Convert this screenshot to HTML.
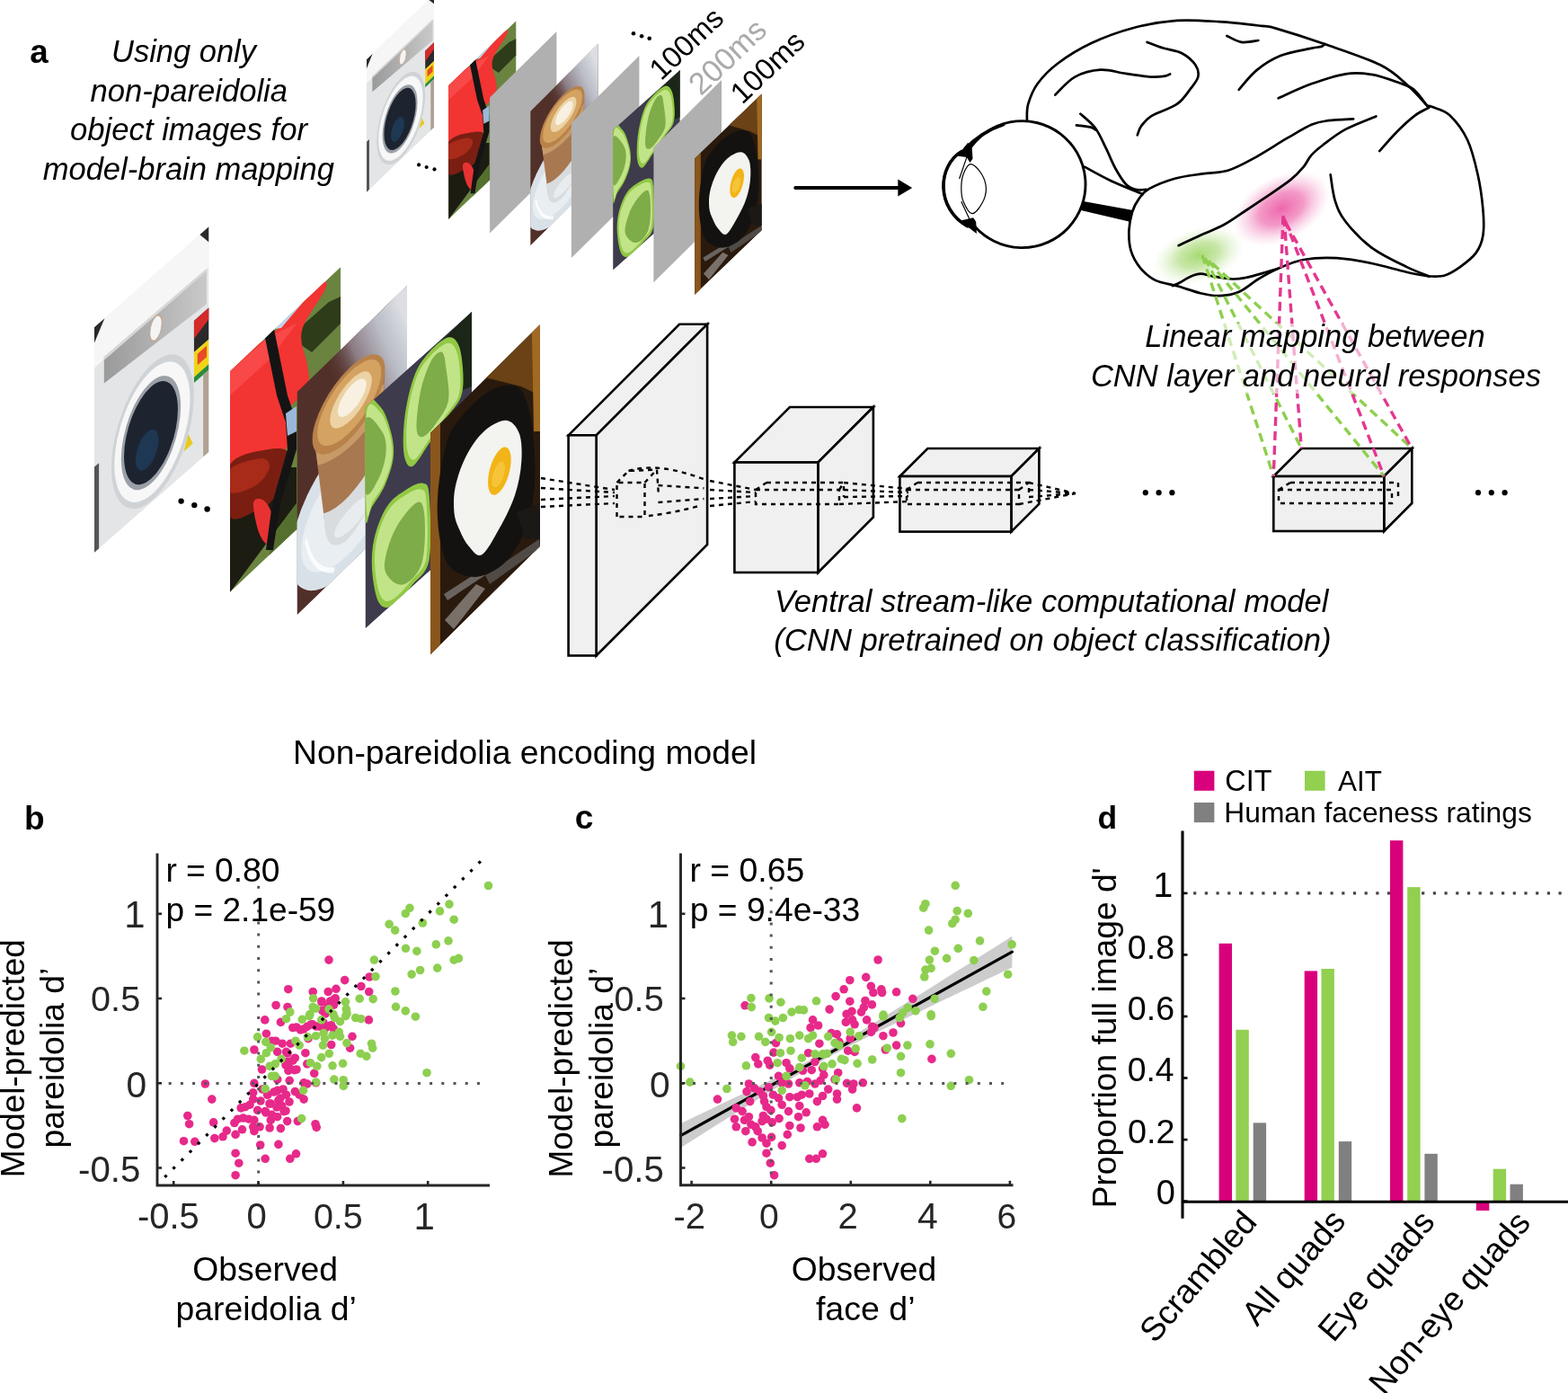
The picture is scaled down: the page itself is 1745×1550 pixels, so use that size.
<!DOCTYPE html>
<html><head><meta charset="utf-8"><title>Figure</title>
<style>html,body{margin:0;padding:0;background:#fff;} svg{display:block;}</style></head>
<body><svg width="1745" height="1550" viewBox="0 0 1745 1550">
<defs>
<clipPath id="uc"><rect x="0" y="0" width="100" height="100"/></clipPath>
<radialGradient id="gPink" cx="50%" cy="50%" r="50%">
  <stop offset="0" stop-color="#ec5fa8" stop-opacity="0.95"/>
  <stop offset="0.45" stop-color="#ef77b5" stop-opacity="0.75"/>
  <stop offset="1" stop-color="#f6b6d6" stop-opacity="0"/>
</radialGradient>
<radialGradient id="gGreen" cx="50%" cy="50%" r="50%">
  <stop offset="0" stop-color="#a3d86d" stop-opacity="0.95"/>
  <stop offset="0.45" stop-color="#b2dd85" stop-opacity="0.7"/>
  <stop offset="1" stop-color="#d8efc0" stop-opacity="0"/>
</radialGradient>
<linearGradient id="wPanel" x1="0" y1="0" x2="1" y2="0">
  <stop offset="0" stop-color="#9a9a9a"/><stop offset="1" stop-color="#c9c9c9"/>
</linearGradient>
<linearGradient id="cofWall" x1="0" y1="0.55" x2="0.9" y2="0"><stop offset="0.48" stop-color="#52302a" stop-opacity="0"/><stop offset="0.66" stop-color="#8c7c84"/><stop offset="0.84" stop-color="#babcc6"/><stop offset="1" stop-color="#dcdee4"/></linearGradient><g id="p_wash"><rect x="0" y="0" width="100" height="100" fill="#e3e5e7"/><rect x="0" y="0" width="100" height="18" fill="#f6f6f6"/><polygon points="8.5,17 98,17.8 98,33.5 8.5,28.7" fill="url(#wPanel)"/><polygon points="8.5,17 98,17.8 98,19 8.5,18.4" fill="#d8d8d8"/><circle cx="53.7" cy="24.4" r="5.2" fill="#f4f4f4" stroke="#c8a080" stroke-width="0.6"/><rect x="87" y="36" width="13" height="14" fill="#2a2a2a"/><polygon points="87,36 100,36 100,41 87,44" fill="#d42a2a"/><rect x="87" y="50" width="13" height="11" fill="#f0d418"/><rect x="90" y="52" width="8" height="5" fill="#e84a2a"/><rect x="87" y="61" width="13" height="2.5" fill="#2a8a3a"/><rect x="95" y="63.5" width="5" height="36.5" fill="#b0a292"/><ellipse cx="50.9" cy="69" rx="36" ry="30.2" fill="#d0d3d6"/><ellipse cx="50.5" cy="69" rx="33" ry="27.5" fill="#f7f7f7"/><ellipse cx="49.4" cy="68.9" rx="26" ry="22.5" fill="#9aa0a6"/><ellipse cx="49.4" cy="68.9" rx="23.5" ry="20.4" fill="#1d2430"/><ellipse cx="46" cy="75" rx="10" ry="8" fill="#1f3c5c" opacity="0.8"/><polygon points="78,90 82,84 86,90" fill="#e8c820"/><polygon points="0,0 9,0 0,7" fill="#2a2a2a"/><polygon points="92,0 100,0 100,7" fill="#2a2a2a"/><polygon points="0,62 4,62 4,100 0,100" fill="#555"/></g><g id="p_red"><rect x="0" y="0" width="100" height="100" fill="#6a8440"/><polygon points="0.0,51.6 35.8,60.4 60.2,71.9 60.2,88.1 35.8,92.9 0.0,100.0" fill="#1c1c12" /><polygon points="35.8,92.9 60.2,88.1 100.0,90.7 100.0,102.8 35.8,109.1" fill="#55702e" /><polygon points="53.7,9.9 89.4,10.9 100.0,13.4 100.0,25.6 74.0,26.4" fill="#2e3c1a" /><path d="M0.0,0.0 C5.4,-7.3 24.8,0.5 32.5,0.7 C40.2,0.9 38.2,1.4 46.3,1.1 C54.5,0.9 74.7,-1.1 81.3,-0.7 C87.9,-0.3 88.9,1.5 86.2,3.6 C83.5,5.8 67.8,8.0 65.0,12.4 C62.3,16.8 69.0,25.8 69.9,30.1 C70.9,34.4 72.4,36.4 70.7,38.2 C69.1,40.1 63.6,40.7 60.2,41.4 C56.8,42.1 51.4,40.3 50.4,42.5 C49.5,44.7 54.9,51.8 54.5,54.5 C54.1,57.3 51.4,59.7 48.0,59.2 C44.6,58.7 39.7,53.1 34.1,51.5 C28.6,49.8 20.3,50.4 14.6,49.2 C8.9,48.0 2.4,52.5 0.0,44.3 C-2.4,36.1 -5.4,7.3 0.0,0.0Z" fill="#f23432" /><polygon points="0.0,0.0 35.8,1.0 60.2,6.8 35.8,11.6 0.0,11.0" fill="#f84848" /><polygon points="40.7,0.1 66.7,-2.3 72.4,-0.8 46.3,2.3" fill="#c0d4e6" /><path d="M0.0,42.3 C5.7,39.9 25.2,48.1 34.1,51.5 C43.1,54.9 51.4,58.9 53.7,62.7 C56.0,66.5 50.9,71.9 48.0,74.2 C45.0,76.6 39.7,76.6 35.8,76.6 C31.8,76.7 30.4,76.3 24.4,74.5 C18.4,72.7 4.1,71.2 0.0,65.9 C-4.1,60.5 -5.7,44.7 0.0,42.3Z" fill="#7a1e12" /><path d="M0.0,44.3 C4.6,43.9 21.7,49.8 27.6,52.5 C33.6,55.1 36.4,58.7 35.8,60.4 C35.1,62.1 29.5,63.7 23.6,62.7 C17.6,61.8 3.9,58.0 0.0,54.9 C-3.9,51.8 -4.6,44.7 0.0,44.3Z" fill="#a82a18" /><path d="M21.1,69.7 C21.7,67.5 26.6,70.0 29.3,71.9 C32.0,73.9 35.5,77.6 37.4,81.5 C39.3,85.3 41.2,93.0 40.7,95.2 C40.1,97.4 36.6,96.2 34.1,94.6 C31.7,92.9 28.2,89.2 26.0,85.0 C23.8,80.9 20.6,71.9 21.1,69.7Z" fill="#e83232" /><polygon points="31.7,-0.1 39.8,-0.3 52.0,35.5 60.2,51.5 60.2,63.7 45.5,81.2 39.0,99.3 32.5,96.2 38.2,77.8 52.0,59.9 50.4,46.9 42.3,30.9" fill="#141414" /><polygon points="50.4,42.9 60.2,44.2 60.2,55.6 52.0,53.8" fill="#9ab8d8" /></g><g id="p_coffee"><rect x="0" y="0" width="100" height="100" fill="#52302a"/><rect x="0" y="0" width="100" height="100" fill="url(#cofWall)"/><path d="M0,62 L100,40" stroke="#3a2018" stroke-width="1.2" opacity="0.7"/><ellipse cx="46" cy="72" rx="52" ry="30" fill="#d9e1e8"/><ellipse cx="46" cy="73" rx="42" ry="22" fill="#e9eef2"/><path d="M8,70 Q14,88 34,96" stroke="#ffffff" stroke-width="2.2" fill="none" opacity="0.8"/><path d="M16,30 L80,30 L74,74 Q60,86 44,86 Q30,84 26,74 Z" fill="#a87850"/><path d="M17,34 L79,34 L78,44 Q48,52 19,42 Z" fill="#c79a68"/><path d="M24,66 Q48,74 76,62 L74,76 Q60,88 44,88 Q30,86 26,76 Z" fill="#d8dcde"/><ellipse cx="50" cy="80" rx="16" ry="5" fill="#eef0f2" opacity="0.8"/><ellipse cx="47" cy="28" rx="33" ry="16" fill="#b8824a"/><ellipse cx="47.5" cy="27.5" rx="29" ry="13.5" fill="#d4a261"/><ellipse cx="49" cy="27" rx="19" ry="9" fill="#ecd2a4"/><ellipse cx="50" cy="26.5" rx="13" ry="6" fill="#f8f0e0"/></g><g id="p_pepper"><rect x="0" y="0" width="100" height="100" fill="#3e3b4c"/><polygon points="53.6,1.6 100.0,0.0 100.0,33.8 78.9,28.7" fill="#1b2518" /><path d="M36.3,36.7 C35.1,32.4 35.6,25.1 37.2,19.9 C38.9,14.7 42.3,8.7 46.2,5.6 C50.0,2.4 54.8,1.6 60.1,1.1 C65.4,0.5 73.3,0.6 78.0,2.1 C82.6,3.6 85.6,6.5 87.9,10.2 C90.3,13.9 91.6,20.4 91.9,24.3 C92.2,28.3 92.2,31.8 89.9,34.0 C87.6,36.2 82.9,36.1 78.0,37.4 C73.0,38.8 65.7,40.8 60.1,42.2 C54.5,43.6 48.2,46.7 44.2,45.8 C40.3,44.9 37.5,41.0 36.3,36.7Z" fill="#92c844" /><path d="M39.1,35.4 C38.1,31.5 38.5,24.9 39.9,20.3 C41.4,15.6 44.6,10.2 48.0,7.4 C51.4,4.5 55.8,3.8 60.5,3.3 C65.3,2.8 72.5,2.9 76.6,4.2 C80.8,5.6 83.5,8.2 85.6,11.5 C87.7,14.9 88.9,20.7 89.2,24.3 C89.5,27.8 89.4,31.0 87.3,32.9 C85.2,34.9 81.1,34.8 76.6,36.1 C72.2,37.3 65.6,39.0 60.5,40.3 C55.5,41.6 49.8,44.4 46.2,43.6 C42.7,42.8 40.2,39.3 39.1,35.4Z" fill="#c2e488" /><path d="M48.2,30.3 C47.8,26.7 49.8,18.9 52.2,14.8 C54.5,10.7 58.8,7.2 62.1,5.7 C65.4,4.3 69.7,4.6 72.1,6.2 C74.4,7.9 75.0,11.5 76.0,15.6 C77.0,19.7 79.6,27.3 78.0,30.8 C76.3,34.2 70.0,35.1 66.1,36.1 C62.1,37.1 57.2,37.7 54.2,36.7 C51.2,35.8 48.5,34.0 48.2,30.3Z" fill="#7eac48" /><path d="M0.0,0.0 C2.4,-7.2 10.4,2.6 14.4,6.2 C18.5,9.9 22.3,17.3 24.3,22.0 C26.3,26.6 27.3,30.7 26.3,34.3 C25.3,37.9 21.7,41.1 18.4,43.3 C15.1,45.5 9.5,46.6 6.4,47.7 C3.3,48.7 1.1,57.6 0.0,49.7 C-1.1,41.8 -2.4,7.2 0.0,0.0Z" fill="#92c844" /><path d="M1.3,2.9 C3.4,-3.6 10.6,5.2 14.3,8.5 C17.9,11.8 21.4,18.4 23.2,22.7 C24.9,26.9 25.9,30.6 25.0,33.8 C24.1,37.0 20.8,39.9 17.8,41.9 C14.9,43.9 9.8,44.8 7.1,45.8 C4.3,46.8 2.2,54.8 1.3,47.6 C0.3,40.5 -0.9,9.4 1.3,2.9Z" fill="#c2e488" /><path d="M0.0,5.8 C2.7,2.5 13.2,14.6 16.4,18.5 C19.6,22.5 20.0,26.2 19.3,29.4 C18.7,32.6 15.6,36.4 12.4,37.8 C9.2,39.3 2.1,43.6 0.0,38.2 C-2.1,32.9 -2.7,9.0 0.0,5.8Z" fill="#7eac48" /><path d="M6.4,76.4 C5.8,71.3 6.1,66.7 8.4,62.9 C10.8,59.1 15.4,55.2 20.3,53.7 C25.3,52.1 32.6,53.1 38.2,53.8 C43.9,54.4 50.5,55.7 54.2,57.7 C57.8,59.8 59.1,59.9 60.1,66.0 C61.1,72.2 62.7,89.1 60.1,94.7 C57.4,100.2 50.2,98.4 44.2,99.3 C38.3,100.3 29.6,101.3 24.3,100.3 C19.0,99.3 15.4,97.2 12.4,93.3 C9.4,89.3 7.1,81.4 6.4,76.4Z" fill="#92c844" /><path d="M9.1,76.3 C8.5,71.7 8.8,67.6 10.9,64.2 C13.0,60.8 17.1,57.3 21.6,55.9 C26.1,54.5 32.6,55.3 37.7,56.0 C42.8,56.6 48.8,57.7 52.0,59.5 C55.3,61.4 56.5,61.5 57.4,67.0 C58.2,72.6 59.7,87.8 57.4,92.8 C55.0,97.8 48.5,96.1 43.1,97.0 C37.7,97.8 29.9,98.8 25.2,97.8 C20.4,96.9 17.1,95.1 14.5,91.5 C11.8,87.9 9.7,80.9 9.1,76.3Z" fill="#c2e488" /><path d="M18.4,81.5 C16.7,77.3 21.0,72.6 24.3,69.7 C27.6,66.9 33.6,65.0 38.2,64.3 C42.9,63.5 49.2,63.1 52.2,65.5 C55.1,67.9 56.1,73.9 56.1,78.7 C56.1,83.4 55.8,91.4 52.2,94.2 C48.5,96.9 39.9,97.2 34.3,95.0 C28.6,92.9 20.1,85.7 18.4,81.5Z" fill="#7eac48" /></g><g id="p_egg"><rect x="0" y="0" width="100" height="100" fill="#2a1a0e"/><polygon points="0.0,0.0 9.0,0.1 9.0,104.2 0.0,100.0" fill="#8a561c" /><polygon points="50.0,-0.5 100.0,0.0 100.0,32.0 82.8,19.5" fill="#6a4216" /><polygon points="92.6,0.0 100.0,0.0 100.0,48.2 94.3,45.4" fill="#a06a22" /><polygon points="12.3,78.7 46.7,84.5 50.0,88.6 15.6,83.1" fill="#6a6460" /><polygon points="50.0,88.6 99.2,96.4 100.0,100.9 54.1,94.6" fill="#504a46" /><polygon points="13.1,90.8 41.8,88.6 50.0,94.7 21.3,98.9" fill="#7a706a" /><path d="M14.8,11.5 C11.1,15.7 7.7,24.6 6.7,31.4 C5.7,38.2 6.7,45.8 8.7,52.3 C10.7,58.7 13.1,64.5 18.8,70.1 C24.5,75.7 34.5,82.2 42.9,85.8 C51.2,89.4 61.7,91.7 69.0,91.7 C76.4,91.6 82.7,89.2 87.0,85.6 C91.4,81.9 94.1,76.6 95.1,69.7 C96.1,62.7 94.8,51.5 93.1,43.9 C91.4,36.3 88.4,29.0 85.1,24.1 C81.7,19.1 78.4,17.0 73.0,14.2 C67.7,11.4 60.2,8.6 52.9,7.3 C45.5,6.0 35.1,5.8 28.8,6.5 C22.4,7.2 18.4,7.4 14.8,11.5Z" fill="#141210" /><polygon points="78.7,74.2 100.0,80.6 100.0,96.8 86.9,90.4" fill="#1c1816" /><path d="M21.7,46.7 C21.1,43.1 20.9,38.7 22.8,35.3 C24.6,31.9 28.4,28.3 32.8,26.3 C37.1,24.3 42.8,22.9 48.9,23.2 C54.9,23.5 63.6,25.3 69.0,28.1 C74.4,30.9 78.7,35.7 81.1,40.0 C83.4,44.2 83.7,49.5 83.0,53.8 C82.4,58.1 80.4,62.5 77.0,65.8 C73.7,69.1 68.0,71.8 63.0,73.8 C57.9,75.8 51.6,78.8 46.9,77.9 C42.2,76.9 38.2,71.5 34.8,68.0 C31.5,64.6 29.0,60.7 26.8,57.1 C24.6,53.6 22.4,50.3 21.7,46.7Z" fill="#f3f3ef" /><g transform="matrix(1,0,0,1,0,0)"></g><ellipse cx="63.0" cy="48.0" rx="10.5" ry="9.5" fill="#f2b416"/><ellipse cx="62.0" cy="49.0" rx="6" ry="5" fill="#f6c43a"/></g>
</defs>
<rect width="1745" height="1550" fill="#fff"/>
<g transform="matrix(0.7500,-0.7200,0.0000,1.4800,408.00,66.00)"><g clip-path="url(#uc)"><use href="#p_wash"/></g></g><g transform="matrix(0.7540,-0.7200,0.0000,1.4920,499.10,95.00)"><g clip-path="url(#uc)"><use href="#p_red"/></g></g><polygon points="545.1,108.5 619.4,35 619.4,185.89999999999998 545.1,259.4" fill="#b0b0b0"/><g transform="matrix(0.7540,-0.7530,0.0000,1.4980,590.20,123.80)"><g clip-path="url(#uc)"><use href="#p_coffee"/></g></g><polygon points="635.9,136.8 711.4,62 711.4,212.3 635.9,287.1" fill="#b0b0b0"/><g transform="matrix(0.7470,-0.6670,0.0000,1.5640,682.10,144.40)"><g clip-path="url(#uc)"><use href="#p_pepper"/></g></g><polygon points="727.4,164 803,89 803.0000000000001,239.3 727.4,314.3" fill="#b0b0b0"/><g transform="matrix(0.7470,-0.7180,0.0000,1.5200,773.10,176.00)"><g clip-path="url(#uc)"><use href="#p_egg"/></g></g><circle cx="466.1" cy="183.4" r="2.1" fill="#000"/><circle cx="474.7" cy="186" r="2.1" fill="#000"/><circle cx="483.5" cy="188.4" r="2.1" fill="#000"/><circle cx="705" cy="37.3" r="2.3" fill="#000"/><circle cx="714.1" cy="40.3" r="2.3" fill="#000"/><circle cx="722.7" cy="42.7" r="2.3" fill="#000"/><line x1="885.3" y1="209" x2="1001" y2="209" stroke="#000" stroke-width="4.1" stroke-linecap="round"/><polygon points="1015.2,209 999.3,199.6 999.3,218.4" fill="#000"/><g transform="matrix(1.2750,-1.1200,0.0000,2.5100,105.00,364.00)"><g clip-path="url(#uc)"><use href="#p_wash"/></g></g><g transform="matrix(1.2300,-1.1600,0.0000,2.4600,256.00,413.00)"><g clip-path="url(#uc)"><use href="#p_red"/></g></g><g transform="matrix(1.2250,-1.1840,0.0000,2.4850,330.50,436.00)"><g clip-path="url(#uc)"><use href="#p_coffee"/></g></g><g transform="matrix(1.1850,-1.0620,0.0000,2.4650,406.50,453.00)"><g clip-path="url(#uc)"><use href="#p_pepper"/></g></g><g transform="matrix(1.2200,-1.2060,0.0000,2.4690,479.00,481.60)"><g clip-path="url(#uc)"><use href="#p_egg"/></g></g><circle cx="201.6" cy="557.6" r="3.2" fill="#000"/><circle cx="216.3" cy="562.1" r="3.2" fill="#000"/><circle cx="230.6" cy="566.5" r="3.2" fill="#000"/><polygon points="632.6,484.3 756.1,360.8 787.1,360.8 663.6,484.3" fill="#f0f0f0" stroke="#000" stroke-width="2.6" stroke-linejoin="miter"/><polygon points="663.6,484.3 787.1,360.8 787.1,606.0 663.6,729.5" fill="#f0f0f0" stroke="#000" stroke-width="2.6"/><rect x="632.6" y="484.3" width="31" height="245.2" fill="#f0f0f0" stroke="#000" stroke-width="2.6"/><polygon points="817.4,514.5 878.9,453.0 971.9,453.0 910.4,514.5" fill="#f0f0f0" stroke="#000" stroke-width="2.6" stroke-linejoin="miter"/><polygon points="910.4,514.5 971.9,453.0 971.9,575.5 910.4,637.0" fill="#f0f0f0" stroke="#000" stroke-width="2.6"/><rect x="817.4" y="514.5" width="93" height="122.5" fill="#f0f0f0" stroke="#000" stroke-width="2.6"/><polygon points="1001.4,530 1032.4,499 1156.4,499 1125.4,530" fill="#f0f0f0" stroke="#000" stroke-width="2.6" stroke-linejoin="miter"/><polygon points="1125.4,530 1156.4,499 1156.4,560.6 1125.4,591.6" fill="#f0f0f0" stroke="#000" stroke-width="2.6"/><rect x="1001.4" y="530" width="124" height="61.6" fill="#f0f0f0" stroke="#000" stroke-width="2.6"/><polygon points="1417.3,530 1448.3,499 1571.3,499 1540.3,530" fill="#f0f0f0" stroke="#000" stroke-width="2.6" stroke-linejoin="miter"/><polygon points="1540.3,530 1571.3,499 1571.3,560 1540.3,591" fill="#f0f0f0" stroke="#000" stroke-width="2.6"/><rect x="1417.3" y="530" width="123" height="61" fill="#f0f0f0" stroke="#000" stroke-width="2.6"/><circle cx="1274.8" cy="548.2" r="3.1" fill="#000"/><circle cx="1289.6" cy="548.2" r="3.1" fill="#000"/><circle cx="1304.4" cy="548.2" r="3.1" fill="#000"/><circle cx="1645" cy="548.2" r="3.1" fill="#000"/><circle cx="1659.8" cy="548.2" r="3.1" fill="#000"/><circle cx="1674.6" cy="548.2" r="3.1" fill="#000"/><ellipse cx="1426" cy="232" rx="58" ry="36" transform="rotate(-28 1426 232)" fill="url(#gPink)"/><ellipse cx="1334" cy="284" rx="52" ry="30" transform="rotate(-18 1334 284)" fill="url(#gGreen)"/><path d="M1142.9,133.9 C1143.1,130.9 1142.2,122.7 1144.2,115.9 C1146.2,109.1 1149.1,100.8 1154.6,93.2 C1160.1,85.6 1167.2,78.1 1177.3,70.5 C1187.4,62.9 1200.9,54.4 1215.1,47.8 C1229.3,41.2 1246.6,35.0 1262.4,30.8 C1278.2,26.7 1293.9,24.0 1309.7,22.9 C1325.5,21.8 1341.2,23.2 1357.0,24.2 C1372.8,25.2 1393.7,27.7 1404.2,28.9 C1414.7,30.1 1408.3,28.2 1420.0,31.6 C1431.7,35.0 1454.8,42.2 1474.2,49.0 C1493.6,55.8 1520.7,64.5 1536.2,72.3 C1551.7,80.0 1558.4,87.9 1567.1,95.5 C1575.8,103.1 1584.9,114.1 1588.4,117.8" fill="none" stroke="#000" stroke-width="2.7" stroke-linecap="round" stroke-linejoin="round"/><path d="M1588.4,117.8 C1589.4,118.0 1590.0,117.3 1594.2,119.1 C1598.4,120.9 1607.1,122.3 1613.6,128.4 C1620.1,134.5 1627.8,144.5 1633.0,155.5 C1638.2,166.5 1641.7,181.3 1644.6,194.2 C1647.5,207.1 1649.4,221.7 1650.4,233.0 C1651.4,244.3 1651.7,253.9 1650.4,262.0 C1649.1,270.1 1646.8,275.6 1642.6,281.4 C1638.4,287.2 1631.0,292.7 1625.2,296.9 C1619.4,301.1 1613.6,304.7 1607.8,306.5 C1602.0,308.3 1593.3,307.3 1590.4,307.5" fill="none" stroke="#000" stroke-width="2.7" stroke-linecap="round" stroke-linejoin="round"/><path d="M1535.2,168.1 C1538.6,164.4 1548.9,152.4 1555.5,145.8 C1562.1,139.2 1569.1,132.8 1574.9,128.4 C1580.7,124.1 1587.8,121.2 1590.4,119.7" fill="none" stroke="#000" stroke-width="2.7" stroke-linecap="round" stroke-linejoin="round"/><path d="M1480.7,194.4 C1481.5,199.2 1483.0,214.6 1485.8,223.3 C1488.6,232.0 1490.6,237.8 1497.4,246.5 C1504.2,255.2 1515.2,267.2 1526.5,275.6 C1537.8,284.0 1554.5,291.6 1565.2,296.9 C1575.9,302.2 1586.2,305.7 1590.4,307.5" fill="none" stroke="#000" stroke-width="2.7" stroke-linecap="round" stroke-linejoin="round"/><path d="M1506.2,132.3 C1501.5,132.6 1485.8,133.1 1478.1,134.2 C1470.4,135.2 1467.6,135.3 1460.0,138.6 C1452.4,141.8 1443.5,147.4 1432.6,153.7 C1421.7,160.0 1405.8,170.4 1394.8,176.4 C1383.8,182.4 1375.9,186.9 1366.4,189.7 C1356.9,192.5 1347.8,191.9 1338.0,193.4 C1328.2,194.9 1317.2,195.9 1307.3,198.7 C1297.4,201.5 1285.4,206.4 1278.7,210.2 C1272.0,214.0 1270.3,217.3 1267.2,221.6 C1264.1,225.9 1261.8,230.0 1260.0,236.0 C1258.2,242.0 1256.6,250.2 1256.4,257.4 C1256.2,264.5 1256.6,272.2 1258.6,278.9 C1260.6,285.6 1264.1,292.1 1268.6,297.6 C1273.1,303.1 1278.9,308.4 1285.8,311.9 C1292.7,315.3 1301.8,315.9 1310.2,318.3 C1318.6,320.7 1328.1,324.4 1336.0,326.2 C1343.9,328.0 1350.2,329.3 1357.4,329.1 C1364.6,328.9 1371.7,327.9 1378.9,324.8 C1386.1,321.7 1393.2,314.8 1400.4,310.5 C1407.6,306.2 1413.5,302.6 1421.9,299.0 C1430.3,295.4 1439.6,291.0 1450.6,289.0 C1461.6,287.0 1475.1,286.5 1487.8,287.2 C1500.5,287.9 1513.6,290.4 1526.5,293.0 C1539.4,295.6 1554.5,300.3 1565.2,302.7 C1575.9,305.1 1586.2,306.7 1590.4,307.5" fill="none" stroke="#000" stroke-width="2.7" stroke-linecap="round" stroke-linejoin="round"/><path d="M1305.0,318.0 C1306.3,317.4 1309.8,316.2 1313.0,314.5 C1316.2,312.8 1320.7,309.6 1324.5,308.0 C1328.3,306.4 1331.7,304.8 1336.0,304.7 C1340.3,304.6 1344.3,306.6 1350.3,307.6 C1356.3,308.6 1365.8,310.3 1371.8,310.5 C1377.8,310.7 1380.1,310.2 1386.1,309.0 C1392.1,307.8 1401.6,305.0 1407.6,303.3 C1413.6,301.6 1419.5,299.7 1421.9,299.0" fill="none" stroke="#000" stroke-width="2.7" stroke-linecap="round" stroke-linejoin="round"/><path d="M1311.6,273.2 C1315.7,271.3 1327.7,265.5 1336.0,261.7 C1344.3,257.9 1353.4,254.8 1361.7,250.3 C1370.0,245.8 1378.4,239.5 1386.1,234.5 C1393.8,229.5 1399.2,225.9 1407.6,220.2 C1415.9,214.5 1429.0,205.8 1436.2,200.1 C1443.4,194.4 1446.8,190.3 1450.6,185.8 C1454.4,181.3 1455.6,177.0 1459.2,172.9 C1462.8,168.8 1465.7,166.3 1472.1,161.5 C1478.5,156.7 1487.5,149.2 1497.4,143.9 C1507.3,138.6 1525.7,131.8 1531.3,129.4" fill="none" stroke="#000" stroke-width="2.7" stroke-linecap="round" stroke-linejoin="round"/><path d="M1174.4,105.5 C1178.0,102.2 1187.8,90.2 1196.2,85.6 C1204.6,81.0 1215.1,78.3 1224.6,77.7 C1234.0,77.1 1243.5,80.6 1252.9,81.9 C1262.4,83.2 1274.0,85.1 1281.3,85.6 C1288.5,86.1 1292.9,85.2 1296.4,84.7 C1299.9,84.2 1301.1,82.8 1302.1,82.4" fill="none" stroke="#000" stroke-width="2.7" stroke-linecap="round" stroke-linejoin="round"/><path d="M1276.6,46.9 C1279.6,48.0 1288.0,51.5 1294.5,53.5 C1301.0,55.5 1309.3,56.1 1315.3,59.2 C1321.3,62.4 1327.5,68.0 1330.5,72.4 C1333.5,76.8 1334.2,81.2 1333.3,85.6 C1332.3,90.0 1328.7,93.9 1324.8,98.9 C1320.9,104.0 1317.0,110.9 1309.7,115.9 C1302.5,120.9 1287.9,125.0 1281.3,129.1 C1274.7,133.2 1272.5,137.0 1269.9,140.5 C1267.3,144.0 1266.5,148.7 1265.8,150.3" fill="none" stroke="#000" stroke-width="2.7" stroke-linecap="round" stroke-linejoin="round"/><path d="M1365.4,39.9 C1368.1,41.1 1375.7,46.0 1381.5,46.9 C1387.3,47.8 1397.2,45.3 1400.4,45.0" fill="none" stroke="#000" stroke-width="2.7" stroke-linecap="round" stroke-linejoin="round"/><path d="M1378.7,99.8 C1382.0,96.2 1390.8,84.4 1398.5,78.1 C1406.2,71.8 1415.0,66.0 1425.0,62.0 C1435.0,58.0 1451.2,55.6 1458.7,53.9 C1466.2,52.2 1467.7,52.7 1470.3,51.9 C1472.9,51.1 1473.5,49.5 1474.2,49.0" fill="none" stroke="#000" stroke-width="2.7" stroke-linecap="round" stroke-linejoin="round"/><path d="M1422.7,109.3 C1428.7,106.7 1446.2,98.1 1458.7,93.6 C1471.2,89.1 1486.1,84.1 1497.4,82.3 C1508.7,80.5 1516.8,81.4 1526.5,82.9 C1536.2,84.5 1547.8,88.8 1555.5,91.6 C1563.2,94.3 1567.5,95.0 1573.0,99.4 C1578.5,103.8 1585.8,114.7 1588.4,117.8" fill="none" stroke="#000" stroke-width="2.7" stroke-linecap="round" stroke-linejoin="round"/><path d="M1202.4,126.7 C1205.1,129.3 1214.1,136.0 1218.8,142.3 C1223.5,148.6 1227.0,157.2 1230.7,164.7 C1234.4,172.1 1237.4,180.3 1241.1,187.0 C1244.8,193.7 1249.3,201.0 1253.0,205.0 C1256.7,209.0 1259.8,209.9 1263.5,210.9 C1267.2,211.9 1273.4,210.9 1275.4,210.9" fill="none" stroke="#000" stroke-width="2.7" stroke-linecap="round" stroke-linejoin="round"/><path d="M1197.9,139.4 C1200.5,139.7 1209.7,140.6 1213.2,141.4 C1216.7,142.2 1218.0,143.8 1218.9,144.3" fill="none" stroke="#000" stroke-width="2.7" stroke-linecap="round" stroke-linejoin="round"/><path d="M1206.9,185.6 C1211.7,188.2 1225.1,195.9 1235.9,201.0 C1246.7,206.1 1265.8,213.6 1271.8,216.1" fill="none" stroke="#000" stroke-width="2.7" stroke-linecap="round" stroke-linejoin="round"/><polygon points="1203,223.5 1261,234 1258.5,247 1203,234" fill="#000"/><path d="M1071,168 L1077,169 A70.5,70.5 0 1 1 1084,251 L1077,252 C1041,232 1043,184 1071,168 Z" fill="#fff" stroke="#000" stroke-width="2.9" stroke-linejoin="round"/><path d="M1071,168 C1043,184 1041,232 1077,252" fill="none" stroke="#000" stroke-width="3.6"/><path d="M1074,166 C1085,154 1100,144 1118,138" fill="none" stroke="#000" stroke-width="3.8"/><path d="M1080.2,182.6 C1083.5,182.4 1089.1,188.5 1092.0,193.0 C1094.9,197.5 1097.2,203.9 1097.4,209.4 C1097.6,214.9 1095.6,221.3 1093.0,226.0 C1090.4,230.7 1085.2,238.0 1081.7,237.7 C1078.2,237.4 1074.0,228.7 1072.0,224.0 C1070.0,219.3 1069.8,214.4 1069.8,209.4 C1069.8,204.4 1070.3,198.5 1072.0,194.0 C1073.7,189.5 1076.9,182.8 1080.2,182.6Z" fill="none" stroke="#000" stroke-width="1.2"/><polygon points="1065.3,173.6 1077.2,158.7 1081.7,164.7 1082.5,176.6 1079.5,181.1 1075.8,175.1" fill="#000"/><polygon points="1069.8,245.2 1083.2,242.2 1086.2,246.7 1086.9,260 1077.2,252.6" fill="#000"/><path d="M1067.6,199 L1075.8,175.1 M1069.8,224.3 L1080.2,246.6" stroke="#000" stroke-width="1.2" fill="none"/><line x1="1338" y1="284" x2="1417.3" y2="530" stroke="#8dcf4d" stroke-width="3.4" stroke-dasharray="10,6"/><line x1="1341" y1="287" x2="1448.3" y2="499" stroke="#8dcf4d" stroke-width="3.4" stroke-dasharray="10,6"/><line x1="1345" y1="290" x2="1540.3" y2="530" stroke="#8dcf4d" stroke-width="3.4" stroke-dasharray="10,6"/><line x1="1349" y1="293" x2="1571.3" y2="499" stroke="#8dcf4d" stroke-width="3.4" stroke-dasharray="10,6"/><line x1="1428" y1="240" x2="1417.3" y2="530" stroke="#e4378f" stroke-width="3.4" stroke-dasharray="10,6"/><line x1="1429" y1="242" x2="1448.3" y2="499" stroke="#e4378f" stroke-width="3.4" stroke-dasharray="10,6"/><line x1="1430" y1="245" x2="1540.3" y2="530" stroke="#e4378f" stroke-width="3.4" stroke-dasharray="10,6"/><line x1="1431" y1="248" x2="1571.3" y2="499" stroke="#e4378f" stroke-width="3.4" stroke-dasharray="10,6"/><line x1="602" y1="532" x2="684" y2="545" fill="none" stroke="#000" stroke-width="2.4" stroke-dasharray="5,5"/><line x1="602" y1="543" x2="684" y2="548" fill="none" stroke="#000" stroke-width="2.4" stroke-dasharray="5,5"/><line x1="602" y1="556" x2="684" y2="552" fill="none" stroke="#000" stroke-width="2.4" stroke-dasharray="5,5"/><line x1="602" y1="564" x2="684" y2="560" fill="none" stroke="#000" stroke-width="2.4" stroke-dasharray="5,5"/><path d="M686.5,575 L686.5,537 L717.5,537 L717.5,575 Z M686.5,537 L699.5,524 L731,522.5 L733,552 M717.5,537 L731,522.5" fill="none" stroke="#000" stroke-width="2.4" stroke-dasharray="5,5"/><path d="M699.5,524 C730,515 760,525 786,534 M732.5,540 L783.4,543.3 M732.5,559 L783.4,555 M722,574 C740,572 760,568 779.3,562.6" fill="none" stroke="#000" stroke-width="2.4" stroke-dasharray="5,5"/><path d="M790,535 L841,545 M790,545 L841,548 M790,555 L841,552 M790,563 L841,558" fill="none" stroke="#000" stroke-width="2.4" stroke-dasharray="5,5"/><path d="M841,545 L934,545 L934,561 L841,561 Z M853,537 L939,537 L939,553 M841,545 L853,537 M934,545 L939,537" fill="none" stroke="#000" stroke-width="2.4" stroke-dasharray="5,5"/><path d="M939,537 L1011,544 M939,545 L1011,548 M939,553 L1011,552 M934,561 L1011,558" fill="none" stroke="#000" stroke-width="2.4" stroke-dasharray="5,5"/><path d="M1009,545 L1134,545 L1134,561 L1009,561 Z M1021,537 L1145,537 L1145,553 M1009,545 L1021,537 M1134,545 L1145,537" fill="none" stroke="#000" stroke-width="2.4" stroke-dasharray="5,5"/><path d="M1145,537 L1197,549 M1145,545 L1197,549 M1145,553 L1197,549 M1134,561 L1197,549" fill="none" stroke="#000" stroke-width="2.4" stroke-dasharray="5,5"/><path d="M1423,545 L1549,545 L1549,560 L1423,560 Z M1436,537 L1556,537 L1556,553 M1423,545 L1436,537" fill="none" stroke="#000" stroke-width="2.4" stroke-dasharray="5,5"/><rect x="1212" y="360" width="505" height="78" fill="#fff" opacity="0.6"/><text x="33.2" y="69.5" font-family='"Liberation Sans", Arial, sans-serif' font-size="36.71" font-weight="bold">a</text><text x="124.0" y="69.0" font-family='"Liberation Sans", Arial, sans-serif' font-size="34.49" font-style="italic">Using only</text><text x="100.6" y="112.6" font-family='"Liberation Sans", Arial, sans-serif' font-size="34.63" font-style="italic">non-pareidolia</text><text x="78.0" y="156.0" font-family='"Liberation Sans", Arial, sans-serif' font-size="34.69" font-style="italic">object images for</text><text x="47.7" y="199.5" font-family='"Liberation Sans", Arial, sans-serif' font-size="34.53" font-style="italic">model-brain mapping</text><text x="1274.3" y="386.0" font-family='"Liberation Sans", Arial, sans-serif' font-size="34.56" font-style="italic">Linear mapping between</text><text x="1213.9" y="429.7" font-family='"Liberation Sans", Arial, sans-serif' font-size="34.55" font-style="italic">CNN layer and neural responses</text><text x="862.0" y="681.2" font-family='"Liberation Sans", Arial, sans-serif' font-size="34.63" font-style="italic">Ventral stream-like computational model</text><text x="861.3" y="724.4" font-family='"Liberation Sans", Arial, sans-serif' font-size="34.67" font-style="italic">(CNN pretrained on object classification)</text><text x="326.1" y="849.5" font-family='"Liberation Sans", Arial, sans-serif' font-size="37.27">Non-pareidolia encoding model</text><text x="27.0" y="923.4" font-family='"Liberation Sans", Arial, sans-serif' font-size="37.06" font-weight="bold">b</text><text x="639.7" y="922.4" font-family='"Liberation Sans", Arial, sans-serif' font-size="37.01" font-weight="bold">c</text><text x="1221.6" y="922.3" font-family='"Liberation Sans", Arial, sans-serif' font-size="35.42" font-weight="bold">d</text><text transform="translate(735.8,90.6) rotate(-43.5)" font-family='"Liberation Sans", Arial, sans-serif' font-size="32.91">100ms</text><text transform="translate(780.0,107.4) rotate(-43.5)" font-family='"Liberation Sans", Arial, sans-serif' font-size="34.60" fill="#aaaaaa">200ms</text><text transform="translate(825.9,116.9) rotate(-43.5)" font-family='"Liberation Sans", Arial, sans-serif' font-size="33.06">100ms</text>
<circle cx="294.8" cy="1134.9" r="4.8" fill="#e7298a"/><circle cx="296.4" cy="1150.2" r="4.8" fill="#e7298a"/><circle cx="282.9" cy="1168.0" r="4.8" fill="#e7298a"/><circle cx="291.5" cy="1190.0" r="4.8" fill="#e7298a"/><circle cx="228.4" cy="1206.0" r="4.8" fill="#e7298a"/><circle cx="282.9" cy="1205.4" r="4.8" fill="#e7298a"/><circle cx="281.7" cy="1215.8" r="4.8" fill="#e7298a"/><circle cx="281.7" cy="1223.1" r="4.8" fill="#e7298a"/><circle cx="235.8" cy="1223.1" r="4.8" fill="#e7298a"/><circle cx="268.2" cy="1232.9" r="4.8" fill="#e7298a"/><circle cx="273.1" cy="1231.7" r="4.8" fill="#e7298a"/><circle cx="278.0" cy="1229.3" r="4.8" fill="#e7298a"/><circle cx="286.6" cy="1235.4" r="4.8" fill="#e7298a"/><circle cx="295.2" cy="1236.6" r="4.8" fill="#e7298a"/><circle cx="208.8" cy="1241.5" r="4.8" fill="#e7298a"/><circle cx="210.6" cy="1250.7" r="4.8" fill="#e7298a"/><circle cx="237.6" cy="1248.9" r="4.8" fill="#e7298a"/><circle cx="260.9" cy="1249.5" r="4.8" fill="#e7298a"/><circle cx="264.6" cy="1245.2" r="4.8" fill="#e7298a"/><circle cx="270.7" cy="1244.0" r="4.8" fill="#e7298a"/><circle cx="276.8" cy="1245.2" r="4.8" fill="#e7298a"/><circle cx="282.9" cy="1246.4" r="4.8" fill="#e7298a"/><circle cx="281.7" cy="1253.8" r="4.8" fill="#e7298a"/><circle cx="282.9" cy="1258.7" r="4.8" fill="#e7298a"/><circle cx="289.1" cy="1253.8" r="4.8" fill="#e7298a"/><circle cx="300.1" cy="1255.0" r="4.8" fill="#e7298a"/><circle cx="252.3" cy="1258.1" r="4.8" fill="#e7298a"/><circle cx="248.0" cy="1264.8" r="4.8" fill="#e7298a"/><circle cx="238.8" cy="1266.6" r="4.8" fill="#e7298a"/><circle cx="262.1" cy="1262.4" r="4.8" fill="#e7298a"/><circle cx="269.5" cy="1256.8" r="4.8" fill="#e7298a"/><circle cx="204.5" cy="1269.7" r="4.8" fill="#e7298a"/><circle cx="216.8" cy="1270.3" r="4.8" fill="#e7298a"/><circle cx="289.7" cy="1274.0" r="4.8" fill="#e7298a"/><circle cx="262.1" cy="1283.2" r="4.8" fill="#e7298a"/><circle cx="265.8" cy="1294.2" r="4.8" fill="#e7298a"/><circle cx="262.1" cy="1307.7" r="4.8" fill="#e7298a"/><circle cx="295.2" cy="1289.3" r="4.8" fill="#e7298a"/><circle cx="302.5" cy="1158.2" r="4.8" fill="#e7298a"/><circle cx="297.6" cy="1218.2" r="4.8" fill="#e7298a"/><circle cx="301.3" cy="1228.0" r="4.8" fill="#e7298a"/><circle cx="302.5" cy="1240.3" r="4.8" fill="#e7298a"/><circle cx="301.3" cy="1246.4" r="4.8" fill="#e7298a"/><circle cx="312.4" cy="1137.4" r="4.8" fill="#e7298a"/><circle cx="325.8" cy="1143.5" r="4.8" fill="#e7298a"/><circle cx="334.4" cy="1145.9" r="4.8" fill="#e7298a"/><circle cx="341.8" cy="1142.3" r="4.8" fill="#e7298a"/><circle cx="347.9" cy="1139.8" r="4.8" fill="#e7298a"/><circle cx="356.5" cy="1142.3" r="4.8" fill="#e7298a"/><circle cx="362.6" cy="1143.5" r="4.8" fill="#e7298a"/><circle cx="368.7" cy="1141.0" r="4.8" fill="#e7298a"/><circle cx="371.2" cy="1144.7" r="4.8" fill="#e7298a"/><circle cx="410.4" cy="1134.9" r="4.8" fill="#e7298a"/><circle cx="306.8" cy="1158.2" r="4.8" fill="#e7298a"/><circle cx="314.2" cy="1161.2" r="4.8" fill="#e7298a"/><circle cx="323.4" cy="1161.2" r="4.8" fill="#e7298a"/><circle cx="343.0" cy="1155.7" r="4.8" fill="#e7298a"/><circle cx="368.7" cy="1162.5" r="4.8" fill="#e7298a"/><circle cx="392.0" cy="1153.3" r="4.8" fill="#e7298a"/><circle cx="389.6" cy="1166.2" r="4.8" fill="#e7298a"/><circle cx="308.7" cy="1170.4" r="4.8" fill="#e7298a"/><circle cx="318.5" cy="1170.4" r="4.8" fill="#e7298a"/><circle cx="328.3" cy="1177.2" r="4.8" fill="#e7298a"/><circle cx="339.9" cy="1171.7" r="4.8" fill="#e7298a"/><circle cx="319.7" cy="1181.5" r="4.8" fill="#e7298a"/><circle cx="341.8" cy="1183.9" r="4.8" fill="#e7298a"/><circle cx="320.9" cy="1191.3" r="4.8" fill="#e7298a"/><circle cx="327.7" cy="1190.7" r="4.8" fill="#e7298a"/><circle cx="349.7" cy="1194.3" r="4.8" fill="#e7298a"/><circle cx="308.7" cy="1201.1" r="4.8" fill="#e7298a"/><circle cx="322.2" cy="1202.3" r="4.8" fill="#e7298a"/><circle cx="338.1" cy="1204.8" r="4.8" fill="#e7298a"/><circle cx="341.8" cy="1206.0" r="4.8" fill="#e7298a"/><circle cx="351.6" cy="1204.8" r="4.8" fill="#e7298a"/><circle cx="308.7" cy="1213.3" r="4.8" fill="#e7298a"/><circle cx="318.5" cy="1218.2" r="4.8" fill="#e7298a"/><circle cx="328.3" cy="1214.6" r="4.8" fill="#e7298a"/><circle cx="333.2" cy="1218.2" r="4.8" fill="#e7298a"/><circle cx="338.1" cy="1223.1" r="4.8" fill="#e7298a"/><circle cx="309.9" cy="1224.4" r="4.8" fill="#e7298a"/><circle cx="313.6" cy="1230.5" r="4.8" fill="#e7298a"/><circle cx="316.0" cy="1236.6" r="4.8" fill="#e7298a"/><circle cx="308.7" cy="1242.7" r="4.8" fill="#e7298a"/><circle cx="319.7" cy="1247.6" r="4.8" fill="#e7298a"/><circle cx="331.3" cy="1247.6" r="4.8" fill="#e7298a"/><circle cx="312.4" cy="1255.6" r="4.8" fill="#e7298a"/><circle cx="351.0" cy="1250.7" r="4.8" fill="#e7298a"/><circle cx="352.2" cy="1254.4" r="4.8" fill="#e7298a"/><circle cx="309.9" cy="1273.4" r="4.8" fill="#e7298a"/><circle cx="329.5" cy="1283.8" r="4.8" fill="#e7298a"/><circle cx="322.8" cy="1289.3" r="4.8" fill="#e7298a"/><circle cx="366.0" cy="1068.1" r="4.8" fill="#e7298a"/><circle cx="383.7" cy="1090.6" r="4.8" fill="#e7298a"/><circle cx="320.8" cy="1100.7" r="4.8" fill="#e7298a"/><circle cx="348.2" cy="1103.5" r="4.8" fill="#e7298a"/><circle cx="365.2" cy="1103.5" r="4.8" fill="#e7298a"/><circle cx="374.0" cy="1100.3" r="4.8" fill="#e7298a"/><circle cx="411.1" cy="1087.0" r="4.8" fill="#e7298a"/><circle cx="401.9" cy="1097.5" r="4.8" fill="#e7298a"/><circle cx="410.7" cy="1103.5" r="4.8" fill="#e7298a"/><circle cx="307.1" cy="1118.5" r="4.8" fill="#e7298a"/><circle cx="320.0" cy="1120.5" r="4.8" fill="#e7298a"/><circle cx="357.9" cy="1114.0" r="4.8" fill="#e7298a"/><circle cx="367.6" cy="1114.0" r="4.8" fill="#e7298a"/><circle cx="373.2" cy="1110.8" r="4.8" fill="#e7298a"/><circle cx="371.6" cy="1118.1" r="4.8" fill="#e7298a"/><circle cx="358.7" cy="1124.5" r="4.8" fill="#e7298a"/><circle cx="320" cy="1172" r="4.8" fill="#e7298a"/><circle cx="326" cy="1180" r="4.8" fill="#e7298a"/><circle cx="322" cy="1188" r="4.8" fill="#e7298a"/><circle cx="330" cy="1190" r="4.8" fill="#e7298a"/><circle cx="318" cy="1185" r="4.8" fill="#e7298a"/><circle cx="292" cy="1212" r="4.8" fill="#e7298a"/><circle cx="298" cy="1218" r="4.8" fill="#e7298a"/><circle cx="305" cy="1215" r="4.8" fill="#e7298a"/><circle cx="312" cy="1222" r="4.8" fill="#e7298a"/><circle cx="300" cy="1228" r="4.8" fill="#e7298a"/><circle cx="308" cy="1232" r="4.8" fill="#e7298a"/><circle cx="318" cy="1236" r="4.8" fill="#e7298a"/><circle cx="296" cy="1238" r="4.8" fill="#e7298a"/><circle cx="290" cy="1225" r="4.8" fill="#e7298a"/><circle cx="315" cy="1212" r="4.8" fill="#e7298a"/><circle cx="322" cy="1226" r="4.8" fill="#e7298a"/><circle cx="330" cy="1143" r="4.8" fill="#e7298a"/><circle cx="338" cy="1145" r="4.8" fill="#e7298a"/><circle cx="346" cy="1140" r="4.8" fill="#e7298a"/><circle cx="352" cy="1142" r="4.8" fill="#e7298a"/><circle cx="360" cy="1138" r="4.8" fill="#e7298a"/><circle cx="368" cy="1141" r="4.8" fill="#e7298a"/><circle cx="358" cy="1115" r="4.8" fill="#e7298a"/><circle cx="365" cy="1120" r="4.8" fill="#e7298a"/><circle cx="372" cy="1112" r="4.8" fill="#e7298a"/><circle cx="362" cy="1128" r="4.8" fill="#e7298a"/><circle cx="286.6" cy="1153.9" r="4.8" fill="#8dcf50"/><circle cx="295.8" cy="1159.4" r="4.8" fill="#8dcf50"/><circle cx="271.9" cy="1169.2" r="4.8" fill="#8dcf50"/><circle cx="301.3" cy="1165.5" r="4.8" fill="#8dcf50"/><circle cx="296.4" cy="1171.7" r="4.8" fill="#8dcf50"/><circle cx="290.3" cy="1178.4" r="4.8" fill="#8dcf50"/><circle cx="300.1" cy="1186.4" r="4.8" fill="#8dcf50"/><circle cx="302.5" cy="1197.4" r="4.8" fill="#8dcf50"/><circle cx="295.2" cy="1211.5" r="4.8" fill="#8dcf50"/><circle cx="318.5" cy="1133.7" r="4.8" fill="#8dcf50"/><circle cx="336.2" cy="1134.3" r="4.8" fill="#8dcf50"/><circle cx="344.2" cy="1130.6" r="4.8" fill="#8dcf50"/><circle cx="357.7" cy="1134.9" r="4.8" fill="#8dcf50"/><circle cx="372.4" cy="1132.5" r="4.8" fill="#8dcf50"/><circle cx="378.5" cy="1136.7" r="4.8" fill="#8dcf50"/><circle cx="384.7" cy="1130.6" r="4.8" fill="#8dcf50"/><circle cx="395.7" cy="1132.5" r="4.8" fill="#8dcf50"/><circle cx="401.8" cy="1133.7" r="4.8" fill="#8dcf50"/><circle cx="342.4" cy="1153.9" r="4.8" fill="#8dcf50"/><circle cx="351.6" cy="1152.7" r="4.8" fill="#8dcf50"/><circle cx="360.1" cy="1149.6" r="4.8" fill="#8dcf50"/><circle cx="361.4" cy="1155.7" r="4.8" fill="#8dcf50"/><circle cx="370.0" cy="1152.1" r="4.8" fill="#8dcf50"/><circle cx="377.3" cy="1148.4" r="4.8" fill="#8dcf50"/><circle cx="378.5" cy="1153.3" r="4.8" fill="#8dcf50"/><circle cx="328.9" cy="1158.2" r="4.8" fill="#8dcf50"/><circle cx="333.2" cy="1163.1" r="4.8" fill="#8dcf50"/><circle cx="359.5" cy="1163.1" r="4.8" fill="#8dcf50"/><circle cx="385.9" cy="1160.6" r="4.8" fill="#8dcf50"/><circle cx="413.5" cy="1161.2" r="4.8" fill="#8dcf50"/><circle cx="414.7" cy="1166.2" r="4.8" fill="#8dcf50"/><circle cx="366.3" cy="1172.3" r="4.8" fill="#8dcf50"/><circle cx="357.7" cy="1176.6" r="4.8" fill="#8dcf50"/><circle cx="401.2" cy="1172.3" r="4.8" fill="#8dcf50"/><circle cx="407.9" cy="1175.3" r="4.8" fill="#8dcf50"/><circle cx="313.0" cy="1178.4" r="4.8" fill="#8dcf50"/><circle cx="306.2" cy="1183.9" r="4.8" fill="#8dcf50"/><circle cx="345.4" cy="1182.7" r="4.8" fill="#8dcf50"/><circle cx="352.8" cy="1186.4" r="4.8" fill="#8dcf50"/><circle cx="370.0" cy="1185.8" r="4.8" fill="#8dcf50"/><circle cx="381.6" cy="1183.3" r="4.8" fill="#8dcf50"/><circle cx="306.2" cy="1197.4" r="4.8" fill="#8dcf50"/><circle cx="371.8" cy="1201.1" r="4.8" fill="#8dcf50"/><circle cx="382.2" cy="1201.7" r="4.8" fill="#8dcf50"/><circle cx="382.2" cy="1208.4" r="4.8" fill="#8dcf50"/><circle cx="351.6" cy="1204.1" r="4.8" fill="#8dcf50"/><circle cx="337.5" cy="1213.3" r="4.8" fill="#8dcf50"/><circle cx="335.6" cy="1244.6" r="4.8" fill="#8dcf50"/><circle cx="462.4" cy="1131.2" r="4.8" fill="#8dcf50"/><circle cx="475.0" cy="1193.7" r="4.8" fill="#8dcf50"/><circle cx="416.4" cy="1068.1" r="4.8" fill="#8dcf50"/><circle cx="418.0" cy="1086.6" r="4.8" fill="#8dcf50"/><circle cx="348.6" cy="1110.8" r="4.8" fill="#8dcf50"/><circle cx="384.5" cy="1114.8" r="4.8" fill="#8dcf50"/><circle cx="400.2" cy="1111.2" r="4.8" fill="#8dcf50"/><circle cx="415.2" cy="1111.6" r="4.8" fill="#8dcf50"/><circle cx="348.2" cy="1120.5" r="4.8" fill="#8dcf50"/><circle cx="351.5" cy="1122.1" r="4.8" fill="#8dcf50"/><circle cx="366.0" cy="1122.9" r="4.8" fill="#8dcf50"/><circle cx="322.8" cy="1126.1" r="4.8" fill="#8dcf50"/><circle cx="345.0" cy="1128.5" r="4.8" fill="#8dcf50"/><circle cx="385.3" cy="1122.9" r="4.8" fill="#8dcf50"/><circle cx="386.1" cy="1127.7" r="4.8" fill="#8dcf50"/><circle cx="370.8" cy="1128.5" r="4.8" fill="#8dcf50"/><circle cx="543.5" cy="985.5" r="4.8" fill="#8dcf50"/><circle cx="456.0" cy="1010.3" r="4.8" fill="#8dcf50"/><circle cx="451.3" cy="1016.5" r="4.8" fill="#8dcf50"/><circle cx="500.0" cy="1006.1" r="4.8" fill="#8dcf50"/><circle cx="489.5" cy="1013.9" r="4.8" fill="#8dcf50"/><circle cx="470.4" cy="1027.0" r="4.8" fill="#8dcf50"/><circle cx="505.2" cy="1023.2" r="4.8" fill="#8dcf50"/><circle cx="433.1" cy="1028.4" r="4.8" fill="#8dcf50"/><circle cx="439.7" cy="1035.1" r="4.8" fill="#8dcf50"/><circle cx="451.5" cy="1055.3" r="4.8" fill="#8dcf50"/><circle cx="463.9" cy="1058.4" r="4.8" fill="#8dcf50"/><circle cx="485.3" cy="1050.9" r="4.8" fill="#8dcf50"/><circle cx="499.0" cy="1046.9" r="4.8" fill="#8dcf50"/><circle cx="505.2" cy="1068.2" r="4.8" fill="#8dcf50"/><circle cx="510.4" cy="1066.4" r="4.8" fill="#8dcf50"/><circle cx="467.6" cy="1079.5" r="4.8" fill="#8dcf50"/><circle cx="458.1" cy="1084.1" r="4.8" fill="#8dcf50"/><circle cx="486.7" cy="1077.1" r="4.8" fill="#8dcf50"/><circle cx="439.9" cy="1103.0" r="4.8" fill="#8dcf50"/><circle cx="440.5" cy="1120.3" r="4.8" fill="#8dcf50"/><circle cx="451.3" cy="1124.9" r="4.8" fill="#8dcf50"/><line x1="287.7" y1="959.4" x2="287.7" y2="1318" stroke="#555" stroke-width="3" stroke-dasharray="3,10.2"/><line x1="187.7" y1="1205.5" x2="535" y2="1205.5" stroke="#555" stroke-width="3" stroke-dasharray="3,10.2"/><line x1="183.3" y1="1309.9" x2="541" y2="952.2" stroke="#000" stroke-width="3.2" stroke-dasharray="3.2,9.8"/><path d="M175,949.5 L175,1319 L545,1319" fill="none" stroke="#262626" stroke-width="2.9"/><line x1="175" y1="1299.5" x2="180" y2="1299.5" stroke="#262626" stroke-width="2.6"/><line x1="193.2" y1="1319" x2="193.2" y2="1314" stroke="#262626" stroke-width="2.6"/><line x1="175" y1="1205.3" x2="180" y2="1205.3" stroke="#262626" stroke-width="2.6"/><line x1="287.5" y1="1319" x2="287.5" y2="1314" stroke="#262626" stroke-width="2.6"/><line x1="175" y1="1111.0" x2="180" y2="1111.0" stroke="#262626" stroke-width="2.6"/><line x1="381.9" y1="1319" x2="381.9" y2="1314" stroke="#262626" stroke-width="2.6"/><line x1="175" y1="1016.8" x2="180" y2="1016.8" stroke="#262626" stroke-width="2.6"/><line x1="476.2" y1="1319" x2="476.2" y2="1314" stroke="#262626" stroke-width="2.6"/><text x="138.2" y="1031.9" font-family='"Liberation Sans", Arial, sans-serif' font-size="41.85" fill="#262626">1</text><text x="101.1" y="1125.4" font-family='"Liberation Sans", Arial, sans-serif' font-size="39.62" fill="#262626">0.5</text><text x="140.6" y="1220.9" font-family='"Liberation Sans", Arial, sans-serif' font-size="40.74" fill="#262626">0</text><text x="87.0" y="1314.7" font-family='"Liberation Sans", Arial, sans-serif' font-size="40.22" fill="#262626">-0.5</text><text x="152.9" y="1367.1" font-family='"Liberation Sans", Arial, sans-serif' font-size="39.98" fill="#262626">-0.5</text><text x="274.6" y="1367.1" font-family='"Liberation Sans", Arial, sans-serif' font-size="40.05" fill="#262626">0</text><text x="348.9" y="1366.9" font-family='"Liberation Sans", Arial, sans-serif' font-size="39.43" fill="#262626">0.5</text><text x="460.6" y="1367.8" font-family='"Liberation Sans", Arial, sans-serif' font-size="42.00" fill="#262626">1</text><text x="184.4" y="980.7" font-family='"Liberation Sans", Arial, sans-serif' font-size="37.15">r = 0.80</text><text x="184.6" y="1024.5" font-family='"Liberation Sans", Arial, sans-serif' font-size="37.10">p = 2.1e-59</text><text x="214.3" y="1424.8" font-family='"Liberation Sans", Arial, sans-serif' font-size="37.33">Observed</text><text x="195.6" y="1469.1" font-family='"Liberation Sans", Arial, sans-serif' font-size="37.33">pareidolia d’</text><text transform="translate(27.2,1310.2) rotate(-90)" font-family='"Liberation Sans", Arial, sans-serif' font-size="36.98">Model-predicted</text><text transform="translate(71.1,1277.5) rotate(-90)" font-family='"Liberation Sans", Arial, sans-serif' font-size="37.23">pareidolia d’</text><polygon points="757.5,1250.1 766.7,1245.7 775.9,1241.3 785.2,1236.9 794.4,1232.5 803.6,1228.1 812.8,1223.6 822.1,1219.2 831.3,1214.7 840.5,1210.2 849.7,1205.7 858.9,1201.2 868.2,1196.6 877.4,1192.0 886.6,1187.3 895.8,1182.6 905.1,1177.7 914.3,1172.7 923.5,1167.5 932.7,1162.3 942.0,1156.9 951.2,1151.4 960.4,1145.8 969.6,1140.2 978.8,1134.5 988.1,1128.8 997.3,1123.1 1006.5,1117.3 1015.7,1111.5 1025.0,1105.7 1034.2,1100.0 1043.4,1094.2 1052.6,1088.3 1061.8,1082.5 1071.1,1076.7 1080.3,1070.9 1089.5,1065.1 1098.7,1059.2 1108.0,1053.4 1117.2,1047.6 1126.4,1041.7 1126.4,1076.4 1117.2,1080.8 1108.0,1085.2 1098.7,1089.6 1089.5,1094.0 1080.3,1098.4 1071.1,1102.8 1061.8,1107.2 1052.6,1111.6 1043.4,1116.0 1034.2,1120.5 1025.0,1124.9 1015.7,1129.3 1006.5,1133.8 997.3,1138.3 988.1,1142.8 978.8,1147.3 969.6,1151.8 960.4,1156.4 951.2,1161.1 942.0,1165.8 932.7,1170.7 923.5,1175.6 914.3,1180.7 905.1,1185.9 895.8,1191.3 886.6,1196.7 877.4,1202.2 868.2,1207.9 858.9,1213.5 849.7,1219.2 840.5,1224.9 831.3,1230.7 822.1,1236.4 812.8,1242.2 803.6,1248.0 794.4,1253.8 785.2,1259.6 775.9,1265.4 766.7,1271.2 757.5,1277.1" fill="#cccccc"/><line x1="757.5" y1="1263.6" x2="1126.4" y2="1059.1" stroke="#000" stroke-width="3.2" stroke-linecap="round"/><circle cx="798.5" cy="1223.1" r="4.8" fill="#e7298a"/><circle cx="840.8" cy="1176.6" r="4.8" fill="#e7298a"/><circle cx="843.8" cy="1183.9" r="4.8" fill="#e7298a"/><circle cx="854.3" cy="1180.2" r="4.8" fill="#e7298a"/><circle cx="856.7" cy="1185.1" r="4.8" fill="#e7298a"/><circle cx="833.4" cy="1206.0" r="4.8" fill="#e7298a"/><circle cx="831.0" cy="1214.6" r="4.8" fill="#e7298a"/><circle cx="839.6" cy="1210.9" r="4.8" fill="#e7298a"/><circle cx="845.7" cy="1214.6" r="4.8" fill="#e7298a"/><circle cx="849.4" cy="1219.5" r="4.8" fill="#e7298a"/><circle cx="850.6" cy="1225.6" r="4.8" fill="#e7298a"/><circle cx="853.0" cy="1231.7" r="4.8" fill="#e7298a"/><circle cx="857.9" cy="1235.4" r="4.8" fill="#e7298a"/><circle cx="834.7" cy="1225.6" r="4.8" fill="#e7298a"/><circle cx="819.3" cy="1232.9" r="4.8" fill="#e7298a"/><circle cx="826.1" cy="1236.6" r="4.8" fill="#e7298a"/><circle cx="817.5" cy="1245.2" r="4.8" fill="#e7298a"/><circle cx="819.3" cy="1253.8" r="4.8" fill="#e7298a"/><circle cx="828.5" cy="1246.4" r="4.8" fill="#e7298a"/><circle cx="833.4" cy="1242.7" r="4.8" fill="#e7298a"/><circle cx="835.9" cy="1251.3" r="4.8" fill="#e7298a"/><circle cx="829.8" cy="1258.7" r="4.8" fill="#e7298a"/><circle cx="840.8" cy="1253.8" r="4.8" fill="#e7298a"/><circle cx="843.2" cy="1258.7" r="4.8" fill="#e7298a"/><circle cx="849.4" cy="1241.5" r="4.8" fill="#e7298a"/><circle cx="848.1" cy="1247.6" r="4.8" fill="#e7298a"/><circle cx="853.0" cy="1245.2" r="4.8" fill="#e7298a"/><circle cx="859.2" cy="1248.9" r="4.8" fill="#e7298a"/><circle cx="855.5" cy="1209.7" r="4.8" fill="#e7298a"/><circle cx="860.4" cy="1218.2" r="4.8" fill="#e7298a"/><circle cx="866.5" cy="1221.9" r="4.8" fill="#e7298a"/><circle cx="870.2" cy="1229.3" r="4.8" fill="#e7298a"/><circle cx="867.1" cy="1244.6" r="4.8" fill="#e7298a"/><circle cx="877.5" cy="1236.6" r="4.8" fill="#e7298a"/><circle cx="878.8" cy="1252.5" r="4.8" fill="#e7298a"/><circle cx="876.3" cy="1262.4" r="4.8" fill="#e7298a"/><circle cx="858.6" cy="1265.4" r="4.8" fill="#e7298a"/><circle cx="848.1" cy="1266.0" r="4.8" fill="#e7298a"/><circle cx="853.0" cy="1272.2" r="4.8" fill="#e7298a"/><circle cx="837.1" cy="1270.9" r="4.8" fill="#e7298a"/><circle cx="870.2" cy="1274.6" r="4.8" fill="#e7298a"/><circle cx="853.0" cy="1283.2" r="4.8" fill="#e7298a"/><circle cx="857.3" cy="1294.2" r="4.8" fill="#e7298a"/><circle cx="861.6" cy="1307.7" r="4.8" fill="#e7298a"/><circle cx="863.5" cy="1160.6" r="4.8" fill="#e7298a"/><circle cx="861.0" cy="1171.1" r="4.8" fill="#e7298a"/><circle cx="875.1" cy="1182.7" r="4.8" fill="#e7298a"/><circle cx="878.8" cy="1188.8" r="4.8" fill="#e7298a"/><circle cx="866.5" cy="1197.4" r="4.8" fill="#e7298a"/><circle cx="870.2" cy="1204.8" r="4.8" fill="#e7298a"/><circle cx="878.8" cy="1220.7" r="4.8" fill="#e7298a"/><circle cx="877.5" cy="1206.0" r="4.8" fill="#e7298a"/><circle cx="904.5" cy="1134.9" r="4.8" fill="#e7298a"/><circle cx="910.6" cy="1141.0" r="4.8" fill="#e7298a"/><circle cx="902.1" cy="1143.5" r="4.8" fill="#e7298a"/><circle cx="941.3" cy="1137.4" r="4.8" fill="#e7298a"/><circle cx="948.6" cy="1134.9" r="4.8" fill="#e7298a"/><circle cx="951.1" cy="1139.8" r="4.8" fill="#e7298a"/><circle cx="964.6" cy="1134.9" r="4.8" fill="#e7298a"/><circle cx="970.7" cy="1142.3" r="4.8" fill="#e7298a"/><circle cx="969.5" cy="1148.4" r="4.8" fill="#e7298a"/><circle cx="973.1" cy="1143.5" r="4.8" fill="#e7298a"/><circle cx="925.3" cy="1149.6" r="4.8" fill="#e7298a"/><circle cx="931.5" cy="1150.8" r="4.8" fill="#e7298a"/><circle cx="911.9" cy="1161.2" r="4.8" fill="#e7298a"/><circle cx="933.9" cy="1159.4" r="4.8" fill="#e7298a"/><circle cx="946.2" cy="1155.7" r="4.8" fill="#e7298a"/><circle cx="943.7" cy="1169.2" r="4.8" fill="#e7298a"/><circle cx="951.1" cy="1170.4" r="4.8" fill="#e7298a"/><circle cx="982.9" cy="1152.7" r="4.8" fill="#e7298a"/><circle cx="994.0" cy="1149.0" r="4.8" fill="#e7298a"/><circle cx="997.6" cy="1163.1" r="4.8" fill="#e7298a"/><circle cx="985.4" cy="1168.0" r="4.8" fill="#e7298a"/><circle cx="899.6" cy="1171.7" r="4.8" fill="#e7298a"/><circle cx="907.0" cy="1181.5" r="4.8" fill="#e7298a"/><circle cx="903.3" cy="1190.7" r="4.8" fill="#e7298a"/><circle cx="893.5" cy="1191.3" r="4.8" fill="#e7298a"/><circle cx="915.5" cy="1188.8" r="4.8" fill="#e7298a"/><circle cx="916.8" cy="1196.2" r="4.8" fill="#e7298a"/><circle cx="932.7" cy="1193.7" r="4.8" fill="#e7298a"/><circle cx="929.0" cy="1201.1" r="4.8" fill="#e7298a"/><circle cx="907.0" cy="1206.0" r="4.8" fill="#e7298a"/><circle cx="898.4" cy="1203.5" r="4.8" fill="#e7298a"/><circle cx="889.8" cy="1204.8" r="4.8" fill="#e7298a"/><circle cx="913.1" cy="1202.3" r="4.8" fill="#e7298a"/><circle cx="942.5" cy="1205.4" r="4.8" fill="#e7298a"/><circle cx="949.9" cy="1206.0" r="4.8" fill="#e7298a"/><circle cx="948.6" cy="1212.1" r="4.8" fill="#e7298a"/><circle cx="960.3" cy="1204.8" r="4.8" fill="#e7298a"/><circle cx="921.7" cy="1212.1" r="4.8" fill="#e7298a"/><circle cx="931.5" cy="1217.0" r="4.8" fill="#e7298a"/><circle cx="931.5" cy="1223.1" r="4.8" fill="#e7298a"/><circle cx="915.5" cy="1219.5" r="4.8" fill="#e7298a"/><circle cx="909.4" cy="1225.6" r="4.8" fill="#e7298a"/><circle cx="892.3" cy="1218.2" r="4.8" fill="#e7298a"/><circle cx="900.8" cy="1217.0" r="4.8" fill="#e7298a"/><circle cx="887.4" cy="1220.7" r="4.8" fill="#e7298a"/><circle cx="889.8" cy="1230.5" r="4.8" fill="#e7298a"/><circle cx="897.2" cy="1237.8" r="4.8" fill="#e7298a"/><circle cx="888.6" cy="1242.7" r="4.8" fill="#e7298a"/><circle cx="915.5" cy="1246.4" r="4.8" fill="#e7298a"/><circle cx="918.0" cy="1251.3" r="4.8" fill="#e7298a"/><circle cx="909.4" cy="1253.8" r="4.8" fill="#e7298a"/><circle cx="891.0" cy="1255.0" r="4.8" fill="#e7298a"/><circle cx="953.5" cy="1232.9" r="4.8" fill="#e7298a"/><circle cx="900.8" cy="1289.3" r="4.8" fill="#e7298a"/><circle cx="908.2" cy="1289.3" r="4.8" fill="#e7298a"/><circle cx="915.5" cy="1283.8" r="4.8" fill="#e7298a"/><circle cx="1002.5" cy="1138.6" r="4.8" fill="#e7298a"/><circle cx="1036.9" cy="1178.4" r="4.8" fill="#e7298a"/><circle cx="829.1" cy="1118.8" r="4.8" fill="#e7298a"/><circle cx="977.1" cy="1068.0" r="4.8" fill="#e7298a"/><circle cx="963.7" cy="1087.4" r="4.8" fill="#e7298a"/><circle cx="945.8" cy="1090.7" r="4.8" fill="#e7298a"/><circle cx="939.1" cy="1100.8" r="4.8" fill="#e7298a"/><circle cx="930.1" cy="1108.6" r="4.8" fill="#e7298a"/><circle cx="969.3" cy="1097.4" r="4.8" fill="#e7298a"/><circle cx="971.9" cy="1104.5" r="4.8" fill="#e7298a"/><circle cx="980.8" cy="1100.8" r="4.8" fill="#e7298a"/><circle cx="981.6" cy="1104.5" r="4.8" fill="#e7298a"/><circle cx="997.6" cy="1103.8" r="4.8" fill="#e7298a"/><circle cx="945.8" cy="1114.2" r="4.8" fill="#e7298a"/><circle cx="962.9" cy="1113.5" r="4.8" fill="#e7298a"/><circle cx="970.4" cy="1117.9" r="4.8" fill="#e7298a"/><circle cx="961.4" cy="1120.9" r="4.8" fill="#e7298a"/><circle cx="958.5" cy="1126.1" r="4.8" fill="#e7298a"/><circle cx="948.0" cy="1125.4" r="4.8" fill="#e7298a"/><circle cx="942.1" cy="1128.4" r="4.8" fill="#e7298a"/><circle cx="923.1" cy="1123.1" r="4.8" fill="#e7298a"/><circle cx="1015.8" cy="1111.3" r="4.8" fill="#e7298a"/><circle cx="814.4" cy="1152.1" r="4.8" fill="#8dcf50"/><circle cx="815.7" cy="1159.4" r="4.8" fill="#8dcf50"/><circle cx="824.9" cy="1153.3" r="4.8" fill="#8dcf50"/><circle cx="844.5" cy="1153.3" r="4.8" fill="#8dcf50"/><circle cx="851.8" cy="1159.4" r="4.8" fill="#8dcf50"/><circle cx="858.6" cy="1148.4" r="4.8" fill="#8dcf50"/><circle cx="855.5" cy="1132.5" r="4.8" fill="#8dcf50"/><circle cx="862.8" cy="1136.1" r="4.8" fill="#8dcf50"/><circle cx="871.4" cy="1132.5" r="4.8" fill="#8dcf50"/><circle cx="867.1" cy="1154.5" r="4.8" fill="#8dcf50"/><circle cx="879.4" cy="1155.7" r="4.8" fill="#8dcf50"/><circle cx="880.0" cy="1169.2" r="4.8" fill="#8dcf50"/><circle cx="868.4" cy="1171.7" r="4.8" fill="#8dcf50"/><circle cx="865.3" cy="1182.7" r="4.8" fill="#8dcf50"/><circle cx="830.4" cy="1185.8" r="4.8" fill="#8dcf50"/><circle cx="757.5" cy="1186.4" r="4.8" fill="#8dcf50"/><circle cx="767.9" cy="1204.1" r="4.8" fill="#8dcf50"/><circle cx="808.9" cy="1211.5" r="4.8" fill="#8dcf50"/><circle cx="875.1" cy="1197.4" r="4.8" fill="#8dcf50"/><circle cx="870.2" cy="1213.3" r="4.8" fill="#8dcf50"/><circle cx="889.8" cy="1152.1" r="4.8" fill="#8dcf50"/><circle cx="904.5" cy="1152.1" r="4.8" fill="#8dcf50"/><circle cx="899.6" cy="1155.7" r="4.8" fill="#8dcf50"/><circle cx="921.7" cy="1153.3" r="4.8" fill="#8dcf50"/><circle cx="929.0" cy="1160.6" r="4.8" fill="#8dcf50"/><circle cx="933.9" cy="1163.1" r="4.8" fill="#8dcf50"/><circle cx="946.2" cy="1148.4" r="4.8" fill="#8dcf50"/><circle cx="956.0" cy="1152.7" r="4.8" fill="#8dcf50"/><circle cx="952.3" cy="1166.8" r="4.8" fill="#8dcf50"/><circle cx="907.0" cy="1172.9" r="4.8" fill="#8dcf50"/><circle cx="915.5" cy="1172.9" r="4.8" fill="#8dcf50"/><circle cx="920.4" cy="1172.3" r="4.8" fill="#8dcf50"/><circle cx="892.3" cy="1177.2" r="4.8" fill="#8dcf50"/><circle cx="916.8" cy="1186.4" r="4.8" fill="#8dcf50"/><circle cx="926.0" cy="1183.9" r="4.8" fill="#8dcf50"/><circle cx="936.4" cy="1178.4" r="4.8" fill="#8dcf50"/><circle cx="940.0" cy="1179.6" r="4.8" fill="#8dcf50"/><circle cx="954.1" cy="1183.3" r="4.8" fill="#8dcf50"/><circle cx="970.7" cy="1179.0" r="4.8" fill="#8dcf50"/><circle cx="889.8" cy="1187.6" r="4.8" fill="#8dcf50"/><circle cx="930.2" cy="1201.1" r="4.8" fill="#8dcf50"/><circle cx="895.9" cy="1207.8" r="4.8" fill="#8dcf50"/><circle cx="987.2" cy="1166.2" r="4.8" fill="#8dcf50"/><circle cx="982.9" cy="1131.2" r="4.8" fill="#8dcf50"/><circle cx="1001.3" cy="1132.5" r="4.8" fill="#8dcf50"/><circle cx="1002.5" cy="1175.3" r="4.8" fill="#8dcf50"/><circle cx="1002.5" cy="1193.7" r="4.8" fill="#8dcf50"/><circle cx="1003.8" cy="1244.6" r="4.8" fill="#8dcf50"/><circle cx="1036.2" cy="1130.6" r="4.8" fill="#8dcf50"/><circle cx="1009.9" cy="1163.1" r="4.8" fill="#8dcf50"/><circle cx="1035.0" cy="1161.9" r="4.8" fill="#8dcf50"/><circle cx="1058.3" cy="1172.3" r="4.8" fill="#8dcf50"/><circle cx="1078.5" cy="1201.7" r="4.8" fill="#8dcf50"/><circle cx="1058.3" cy="1208.4" r="4.8" fill="#8dcf50"/><circle cx="835.9" cy="1110.6" r="4.8" fill="#8dcf50"/><circle cx="836.3" cy="1120.6" r="4.8" fill="#8dcf50"/><circle cx="856.0" cy="1110.9" r="4.8" fill="#8dcf50"/><circle cx="868.9" cy="1115.2" r="4.8" fill="#8dcf50"/><circle cx="908.5" cy="1113.8" r="4.8" fill="#8dcf50"/><circle cx="881.0" cy="1126.1" r="4.8" fill="#8dcf50"/><circle cx="889.2" cy="1123.5" r="4.8" fill="#8dcf50"/><circle cx="894.4" cy="1123.9" r="4.8" fill="#8dcf50"/><circle cx="983.0" cy="1129.1" r="4.8" fill="#8dcf50"/><circle cx="1063.2" cy="985.4" r="4.8" fill="#8dcf50"/><circle cx="1029.9" cy="1005.7" r="4.8" fill="#8dcf50"/><circle cx="1027.7" cy="1010.2" r="4.8" fill="#8dcf50"/><circle cx="1065.2" cy="1013.6" r="4.8" fill="#8dcf50"/><circle cx="1077.3" cy="1016.4" r="4.8" fill="#8dcf50"/><circle cx="1063.2" cy="1023.2" r="4.8" fill="#8dcf50"/><circle cx="1059.8" cy="1027.7" r="4.8" fill="#8dcf50"/><circle cx="1033.6" cy="1035.1" r="4.8" fill="#8dcf50"/><circle cx="1090.5" cy="1046.9" r="4.8" fill="#8dcf50"/><circle cx="1126.1" cy="1050.9" r="4.8" fill="#8dcf50"/><circle cx="1066.3" cy="1055.4" r="4.8" fill="#8dcf50"/><circle cx="1040.4" cy="1058.2" r="4.8" fill="#8dcf50"/><circle cx="1034.4" cy="1068.1" r="4.8" fill="#8dcf50"/><circle cx="1053.6" cy="1066.3" r="4.8" fill="#8dcf50"/><circle cx="1083.8" cy="1068.6" r="4.8" fill="#8dcf50"/><circle cx="1036.1" cy="1077.4" r="4.8" fill="#8dcf50"/><circle cx="1029.9" cy="1079.1" r="4.8" fill="#8dcf50"/><circle cx="1028.8" cy="1087.0" r="4.8" fill="#8dcf50"/><circle cx="1121.7" cy="1084.2" r="4.8" fill="#8dcf50"/><circle cx="1097.8" cy="1103.1" r="4.8" fill="#8dcf50"/><circle cx="1040.1" cy="1111.3" r="4.8" fill="#8dcf50"/><circle cx="1093.9" cy="1120.3" r="4.8" fill="#8dcf50"/><circle cx="1019.0" cy="1124.8" r="4.8" fill="#8dcf50"/><circle cx="1036.1" cy="1128.8" r="4.8" fill="#8dcf50"/><circle cx="1010.2" cy="1121.4" r="4.8" fill="#8dcf50"/><circle cx="1004.5" cy="1127.1" r="4.8" fill="#8dcf50"/><line x1="858.2" y1="960.4" x2="858.2" y2="1318" stroke="#555" stroke-width="3" stroke-dasharray="3,10.2"/><line x1="757.8" y1="1205.5" x2="1117" y2="1205.5" stroke="#555" stroke-width="3" stroke-dasharray="3,10.2"/><path d="M757.5,949.5 L757.5,1318.8 L1127.5,1318.8" fill="none" stroke="#262626" stroke-width="2.9"/><line x1="757.5" y1="1299.5" x2="762.5" y2="1299.5" stroke="#262626" stroke-width="2.6"/><line x1="757.5" y1="1205.3" x2="762.5" y2="1205.3" stroke="#262626" stroke-width="2.6"/><line x1="757.5" y1="1111.0" x2="762.5" y2="1111.0" stroke="#262626" stroke-width="2.6"/><line x1="757.5" y1="1016.8" x2="762.5" y2="1016.8" stroke="#262626" stroke-width="2.6"/><line x1="769.6" y1="1318.8" x2="769.6" y2="1313.8" stroke="#262626" stroke-width="2.6"/><line x1="858.2" y1="1318.8" x2="858.2" y2="1313.8" stroke="#262626" stroke-width="2.6"/><line x1="946.8" y1="1318.8" x2="946.8" y2="1313.8" stroke="#262626" stroke-width="2.6"/><line x1="1035.3" y1="1318.8" x2="1035.3" y2="1313.8" stroke="#262626" stroke-width="2.6"/><line x1="1123.9" y1="1318.8" x2="1123.9" y2="1313.8" stroke="#262626" stroke-width="2.6"/><text x="720.7" y="1031.9" font-family='"Liberation Sans", Arial, sans-serif' font-size="41.85" fill="#262626">1</text><text x="683.6" y="1125.4" font-family='"Liberation Sans", Arial, sans-serif' font-size="39.62" fill="#262626">0.5</text><text x="723.1" y="1220.9" font-family='"Liberation Sans", Arial, sans-serif' font-size="40.74" fill="#262626">0</text><text x="669.5" y="1314.7" font-family='"Liberation Sans", Arial, sans-serif' font-size="40.22" fill="#262626">-0.5</text><text x="749.4" y="1367.3" font-family='"Liberation Sans", Arial, sans-serif' font-size="40.00" fill="#262626">-2</text><text x="845.0" y="1366.6" font-family='"Liberation Sans", Arial, sans-serif' font-size="39.07" fill="#262626">0</text><text x="932.4" y="1367.3" font-family='"Liberation Sans", Arial, sans-serif' font-size="40.00" fill="#262626">2</text><text x="1021.0" y="1367.3" font-family='"Liberation Sans", Arial, sans-serif' font-size="40.98" fill="#262626">4</text><text x="1109.4" y="1366.6" font-family='"Liberation Sans", Arial, sans-serif' font-size="39.07" fill="#262626">6</text><text x="767.5" y="980.8" font-family='"Liberation Sans", Arial, sans-serif' font-size="37.39">r = 0.65</text><text x="767.7" y="1024.5" font-family='"Liberation Sans", Arial, sans-serif' font-size="37.28">p = 9.4e-33</text><text x="880.7" y="1425.1" font-family='"Liberation Sans", Arial, sans-serif' font-size="37.28">Observed</text><text x="907.9" y="1469.3" font-family='"Liberation Sans", Arial, sans-serif' font-size="37.57">face d’</text><text transform="translate(637.0,1310.6) rotate(-90)" font-family='"Liberation Sans", Arial, sans-serif' font-size="37.04">Model-predicted</text><text transform="translate(681.9,1277.5) rotate(-90)" font-family='"Liberation Sans", Arial, sans-serif' font-size="37.23">pareidolia d’</text><line x1="1328.1" y1="993.9" x2="1745" y2="993.9" stroke="#444" stroke-width="3.2" stroke-dasharray="3.2,9.5"/><rect x="1356.6" y="1049.8" width="14.4" height="286.7" fill="#d9007c"/><rect x="1375.4" y="1145.8" width="14.4" height="190.7" fill="#92d050"/><rect x="1394.7" y="1249.4" width="14.4" height="87.1" fill="#808080"/><rect x="1451.7" y="1080.4" width="14.4" height="256.1" fill="#d9007c"/><rect x="1470.5" y="1078" width="14.4" height="258.5" fill="#92d050"/><rect x="1489.8" y="1270.1" width="14.4" height="66.4" fill="#808080"/><rect x="1547.0" y="935.2" width="14.4" height="401.3" fill="#d9007c"/><rect x="1566.2" y="987.1" width="14.4" height="349.4" fill="#92d050"/><rect x="1585.4" y="1283.8" width="14.4" height="52.7" fill="#808080"/><rect x="1661.7" y="1300.7" width="14.4" height="35.8" fill="#92d050"/><rect x="1680.5" y="1317.7" width="14.4" height="18.8" fill="#808080"/><rect x="1642.8" y="1337" width="14.5" height="10" fill="#d9007c"/><path d="M1316,924.5 L1316,1355.7 M1316,1337.3 L1745,1337.3" fill="none" stroke="#000" stroke-width="3.1"/><line x1="1316" y1="1336.6" x2="1321.5" y2="1336.6" stroke="#000" stroke-width="2.6"/><line x1="1316" y1="1268.1" x2="1321.5" y2="1268.1" stroke="#000" stroke-width="2.6"/><line x1="1316" y1="1199.5" x2="1321.5" y2="1199.5" stroke="#000" stroke-width="2.6"/><line x1="1316" y1="1131.0" x2="1321.5" y2="1131.0" stroke="#000" stroke-width="2.6"/><line x1="1316" y1="1062.4" x2="1321.5" y2="1062.4" stroke="#000" stroke-width="2.6"/><line x1="1316" y1="993.9" x2="1321.5" y2="993.9" stroke="#000" stroke-width="2.6"/><text x="1283.6" y="997.7" font-family='"Liberation Sans", Arial, sans-serif' font-size="39.07">1</text><text x="1254.8" y="1066.6" font-family='"Liberation Sans", Arial, sans-serif' font-size="37.58">0.8</text><text x="1254.8" y="1134.5" font-family='"Liberation Sans", Arial, sans-serif' font-size="37.58">0.6</text><text x="1254.7" y="1203.0" font-family='"Liberation Sans", Arial, sans-serif' font-size="37.35">0.4</text><text x="1255.0" y="1271.7" font-family='"Liberation Sans", Arial, sans-serif' font-size="37.82">0.2</text><text x="1286.7" y="1340.3" font-family='"Liberation Sans", Arial, sans-serif' font-size="38.09">0</text><text transform="translate(1242.4,1344.3) rotate(-90)" font-family='"Liberation Sans", Arial, sans-serif' font-size="37.19">Proportion full image d&#39;</text><rect x="1328.8" y="857.7" width="22.6" height="22.1" fill="#d9007c"/><rect x="1452" y="857.7" width="22.6" height="22.1" fill="#92d050"/><rect x="1328.8" y="893" width="22.6" height="22.1" fill="#808080"/><text x="1363.3" y="880.2" font-family='"Liberation Sans", Arial, sans-serif' font-size="32.41">CIT</text><text x="1489.1" y="879.9" font-family='"Liberation Sans", Arial, sans-serif' font-size="31.43">AIT</text><text x="1362.3" y="914.9" font-family='"Liberation Sans", Arial, sans-serif' font-size="31.78">Human faceness ratings</text><text transform="translate(1285.2,1495.8) rotate(-49.5)" font-family='"Liberation Sans", Arial, sans-serif' font-size="37.13">Scrambled</text><text transform="translate(1399.0,1477.1) rotate(-49.5)" font-family='"Liberation Sans", Arial, sans-serif' font-size="37.55">All quads</text><text transform="translate(1483.9,1494.8) rotate(-49.5)" font-family='"Liberation Sans", Arial, sans-serif' font-size="37.34">Eye quads</text><text transform="translate(1540.5,1553.9) rotate(-49.5)" font-family='"Liberation Sans", Arial, sans-serif' font-size="37.30">Non-eye quads</text>
</svg></body></html>
